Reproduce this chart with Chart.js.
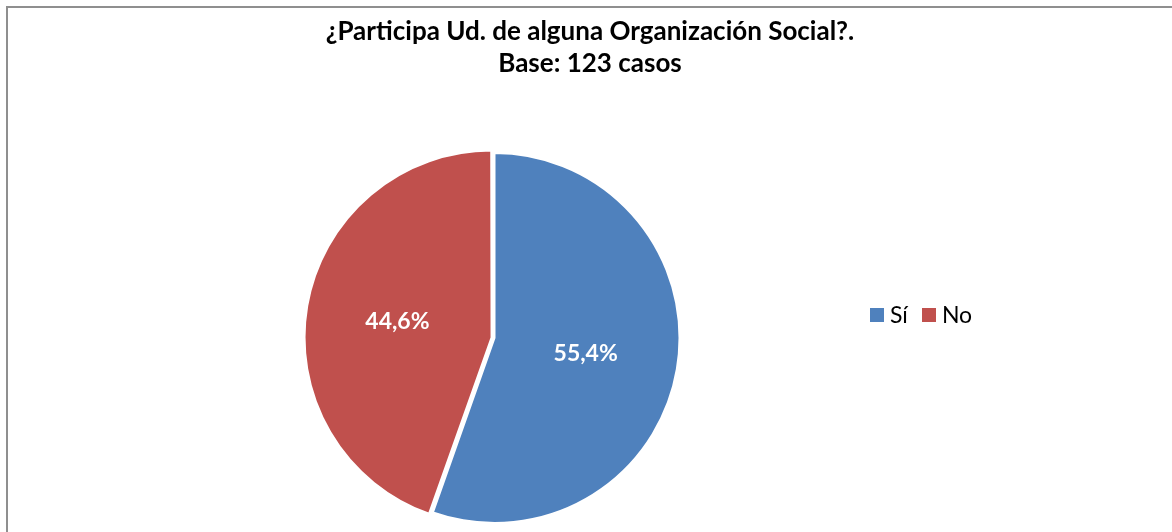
<!DOCTYPE html>
<html>
<head>
<meta charset="utf-8">
<script src="https://cdn.jsdelivr.net/npm/chart.js@4.4.1/dist/chart.umd.min.js"></script>
<style>
  html, body { margin: 0; padding: 0; background: #ffffff; }
  #wrap { position: relative; width: 1172px; height: 532px; overflow: hidden; background: #fff; }
  #frame { position: absolute; left: 6px; top: 6px; width: 1300px; height: 700px; border: 2px solid #8f8f8f; box-sizing: border-box; }
  #chart { position: absolute; left: 0; top: 0; }
  .title { position: absolute; left: 590px; transform: translateX(-50%); white-space: nowrap;
           font-family: Lato, "Liberation Sans", sans-serif; font-weight: 700; font-size: 26px; color: #000; line-height: 1; }
  #legend { position: absolute; left: 870px; top: 303px; display: flex; align-items: center;
            font-family: Lato, "Liberation Sans", sans-serif; font-size: 23px; color: #000; white-space: nowrap; line-height: 1; }
  .sw { display: inline-block; width: 14px; height: 14px; margin-right: 6px; }
  .item { display: flex; align-items: center; margin-right: 14px; }
</style>
</head>
<body>
<div id="wrap">
  <div id="frame"></div>
  <canvas id="chart" width="1172" height="532"></canvas>
  <div class="title" id="t1" style="top:17px"></div>
  <div class="title" id="t2" style="top:49px"></div>
  <div id="legend"></div>
</div>
<script>
const titleLines = ["¿Participa Ud. de alguna Organización Social?.", "Base: 123 casos"];
const categories = ["Sí", "No"];
const values = [55.4, 44.6];
const colors = ["#4F81BD", "#C0504D"];
const offsets = [0, 12];

document.getElementById('t1').textContent = titleLines[0];
document.getElementById('t2').textContent = titleLines[1];

const legend = document.getElementById('legend');
categories.forEach((c, i) => {
  const item = document.createElement('span');
  item.className = 'item';
  const sw = document.createElement('span');
  sw.className = 'sw';
  sw.style.background = colors[i];
  const tx = document.createElement('span');
  tx.textContent = c;
  item.appendChild(sw);
  item.appendChild(tx);
  legend.appendChild(item);
});

const fmt = v => v.toFixed(1).replace('.', ',') + '%';

const labelPlugin = {
  id: 'sliceLabels',
  afterDatasetsDraw(chart) {
    const ctx = chart.ctx;
    const meta = chart.getDatasetMeta(0);
    ctx.save();
    ctx.font = 'bold 23px Lato, "Liberation Sans", sans-serif';
    ctx.fillStyle = '#ffffff';
    ctx.textAlign = 'center';
    ctx.textBaseline = 'middle';
    meta.data.forEach((arc, i) => {
      const p = arc.getCenterPoint();
      ctx.fillText(fmt(values[i]), p.x, p.y);
    });
    ctx.restore();
  }
};

new Chart(document.getElementById('chart'), {
  type: 'pie',
  data: {
    labels: categories,
    datasets: [{
      data: values,
      backgroundColor: colors,
      borderColor: '#ffffff',
      borderWidth: 2,
      offset: offsets
    }]
  },
  options: {
    responsive: false,
    animation: false,
    radius: 185,
    layout: { padding: { left: 0, right: 183, top: 144, bottom: 0 } },
    plugins: {
      legend: { display: false },
      title: { display: false },
      tooltip: { enabled: false }
    }
  },
  plugins: [labelPlugin]
});
</script>
</body>
</html>
